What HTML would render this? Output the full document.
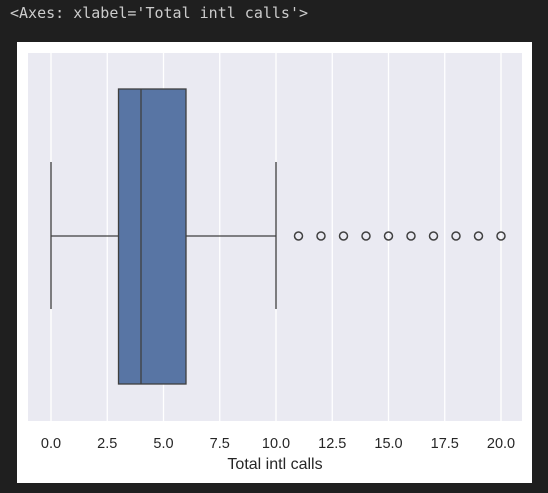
<!DOCTYPE html>
<html><head><meta charset="utf-8"><style>
html,body{margin:0;padding:0;background:#1f1f1f;width:548px;height:493px;overflow:hidden}
#hdr{position:absolute;left:10px;top:4px;font-family:"DejaVu Sans Mono","Liberation Mono",monospace;font-size:15px;color:#cccccc}
svg{position:absolute;left:0;top:0}
</style></head><body>
<div id="hdr">&lt;Axes: xlabel='Total intl calls'&gt;</div>
<svg width="548" height="493" id="chart">
<rect x="17" y="42" width="515" height="441" fill="#ffffff"/>
<rect x="28" y="53" width="494" height="368" fill="#eaeaf2"/>
<g id="grid"></g><g id="marks"></g><g id="ticks"></g>
<text x="275" y="469" text-anchor="middle" font-family="Liberation Sans, sans-serif" font-size="16" fill="#262626">Total intl calls</text>
</svg>
<script>
const tickValues=[0,2.5,5,7.5,10,12.5,15,17.5,20];
const tickLabels=["0.0","2.5","5.0","7.5","10.0","12.5","15.0","17.5","20.0"];
const boxStats=[0,3,4,6,10]; // whisker low, q1, median, q3, whisker high
const outliers=[11,12,13,14,15,16,17,18,19,20];
const NS="http://www.w3.org/2000/svg";
const x=v=>51+v*22.5;
const cy=236, boxTop=89, boxBot=384, capTop=162, capBot=309;
function mk(tag,at,parent){const e=document.createElementNS(NS,tag);for(const k in at)e.setAttribute(k,at[k]);document.getElementById(parent).appendChild(e);return e;}
tickValues.forEach((v,i)=>{
 const g=mk('line',{x1:x(v),x2:x(v),y1:53,y2:421,stroke:'#ffffff','stroke-width':1.3},'grid');
 
 
 const t=mk('text',{x:x(v),y:448,'text-anchor':'middle','font-family':'Liberation Sans, sans-serif','font-size':14.5,fill:'#262626'},'ticks');
 t.textContent=tickLabels[i];
 
 
});
const [lo,q1,med,q3,hi]=boxStats;
const c='#3f3f3f';
let e;
e=mk('line',{x1:x(lo),x2:x(q1),y1:cy,y2:cy,stroke:c,'stroke-width':1.3},'marks');


e=mk('line',{x1:x(q3),x2:x(hi),y1:cy,y2:cy,stroke:c,'stroke-width':1.3},'marks');


e=mk('line',{x1:x(lo),x2:x(lo),y1:capTop,y2:capBot,stroke:c,'stroke-width':1.3},'marks');


e=mk('line',{x1:x(hi),x2:x(hi),y1:capTop,y2:capBot,stroke:c,'stroke-width':1.3},'marks');


e=mk('rect',{x:x(q1),y:boxTop,width:x(q3)-x(q1),height:boxBot-boxTop,fill:'#5875a4',stroke:c,'stroke-width':1.3},'marks');


e=mk('line',{x1:x(med),x2:x(med),y1:boxTop,y2:boxBot,stroke:c,'stroke-width':1.3},'marks');


outliers.forEach(v=>{
 const o=mk('circle',{cx:x(v),cy:cy,r:4,fill:'none',stroke:c,'stroke-width':1.5},'marks');
 
 
});
</script>
</body></html>
